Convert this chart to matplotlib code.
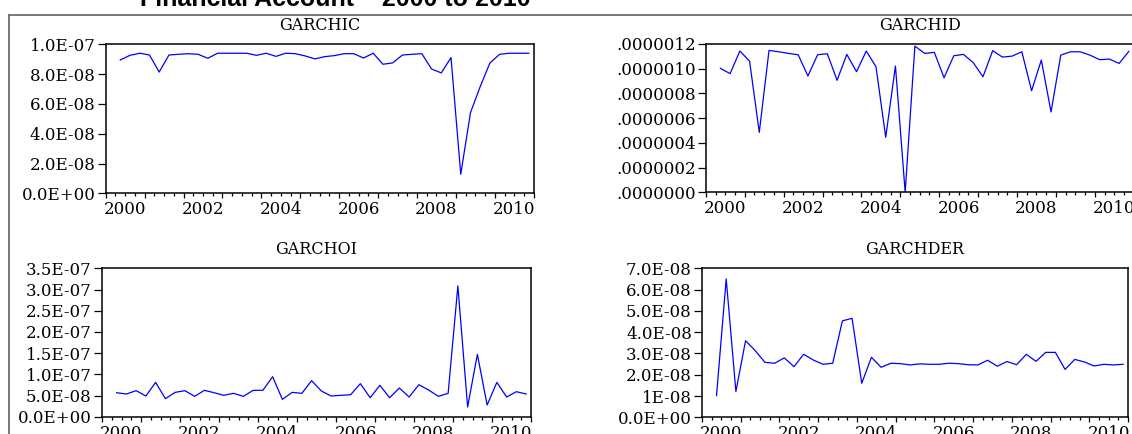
"""Quarterly GARCH variance series, financial account 2000 to 2010"""

import pandas as pd
import matplotlib.pyplot as plt
from matplotlib.lines import Line2D

# quarters 2000Q2 .. 2010Q4 (first obs lost to the lag)
quarters = pd.period_range('2000Q2', '2010Q4', freq='Q')

garchic = [8.95, 9.26, 9.40, 9.28, 8.14, 9.28, 9.33, 9.37, 9.33, 9.06,
           9.40, 9.40, 9.40, 9.40, 9.26, 9.40, 9.19, 9.40, 9.37, 9.22,
           9.02, 9.17, 9.24, 9.37, 9.37, 9.08, 9.40, 8.66, 8.75, 9.28,
           9.33, 9.37, 8.34, 8.08, 9.11, 1.28, 5.41, 7.16, 8.75, 9.33,
           9.40, 9.40, 9.40]  # x 1e-8

garchid = [10.03, 9.60, 11.43, 10.62, 4.85, 11.48, 11.37, 11.24, 11.13, 9.41,
           11.13, 11.21, 9.06, 11.16, 9.76, 11.43, 10.16, 4.45, 10.22, 0.0,
           11.83, 11.24, 11.32, 9.27, 11.05, 11.16, 10.49, 9.35, 11.46, 10.94,
           11.02, 11.37, 8.22, 10.70, 6.50, 11.10, 11.37, 11.37, 11.10, 10.73,
           10.78, 10.43, 11.40]  # x 1e-7

garchoi = [5.66, 5.35, 6.14, 4.88, 8.10, 4.25, 5.74, 6.14, 4.80, 6.22,
           5.66, 5.04, 5.51, 4.80, 6.22, 6.22, 9.44, 4.09, 5.74, 5.51,
           8.50, 6.06, 4.88, 5.04, 5.19, 7.79, 4.48, 7.40, 4.48, 6.77,
           4.64, 7.55, 6.29, 4.80, 5.51, 30.84, 2.28, 14.71, 2.75, 8.10,
           4.64, 5.90, 5.35]  # x 1e-8

garchder = [1.02, 6.50, 1.21, 3.60, 3.13, 2.58, 2.54, 2.79, 2.38, 2.96,
            2.69, 2.49, 2.54, 4.53, 4.65, 1.60, 2.82, 2.35, 2.54, 2.52,
            2.46, 2.51, 2.49, 2.49, 2.54, 2.52, 2.47, 2.46, 2.68, 2.40,
            2.62, 2.47, 2.96, 2.63, 3.05, 3.05, 2.25, 2.72, 2.60, 2.41,
            2.49, 2.46, 2.49]  # x 1e-8

# y tick labels as printed by EViews
ic_ticks = ['0.0E+00', '2.0E-08', '4.0E-08', '6.0E-08', '8.0E-08', '1.0E-07']
id_ticks = ['.0000000', '.0000002', '.0000004', '.0000006', '.0000008',
            '.0000010', '.0000012']
oi_ticks = ['0.0E+00', '5.0E-08', '1.0E-07', '1.5E-07', '2.0E-07', '2.5E-07',
            '3.0E-07', '3.5E-07']
der_ticks = ['0.0E+00', '1E-08', '2.0E-08', '3.0E-08', '4.0E-08', '5.0E-08',
             '6.0E-08', '7.0E-08']

year_labels = ['2000', '2002', '2004', '2006', '2008', '2010']

W, H = 1132, 434
SERIF = 'DejaVu Serif'


def axes_box(left, top, right, bottom):
    """pixel box -> figure fraction rect"""
    return [left / W, 1 - bottom / H, (right - left) / W, (bottom - top) / H]


def eviews_panel(ax, title, values, scale, tick_labels):
    """Draw one EViews style line graph"""
    xs = [q.year + (q.quarter - 1) / 4 + 0.125 for q in quarters]
    ys = [v * scale for v in values]
    ax.plot(xs, ys, color='#0000ff', lw=0.9)

    ax.set_xlim(2000, 2011)
    ax.set_ylim(0, float(tick_labels[-1]) if tick_labels[-1][0] != '.' else 1.2e-6)

    # year ticks, quarter ticks, labels centred on the year
    ax.set_xticks(range(2000, 2012), labels=[''] * 12)
    minor_pos, minor_lab = [], []
    for yr in range(2000, 2011):
        for frac in (0.25, 0.5, 0.75):
            minor_pos.append(yr + frac)
            lab = str(yr) if (frac == 0.5 and str(yr) in year_labels) else ''
            minor_lab.append(lab)
    ax.set_xticks(minor_pos, labels=minor_lab, minor=True)

    n = len(tick_labels)
    top = ax.get_ylim()[1]
    ax.set_yticks([top * i / (n - 1) for i in range(n)], labels=tick_labels)

    ax.tick_params(axis='x', which='major', length=3.8, width=0.9, direction='out')
    ax.tick_params(axis='x', which='minor', length=2.2, width=0.9, direction='out',
                   pad=3.5)
    ax.tick_params(axis='y', length=5.5, width=0.9, direction='out', pad=1.8)
    for lab in ax.get_xticklabels(which='both') + ax.get_yticklabels():
        lab.set_fontfamily(SERIF)
        lab.set_fontsize(12)
    for sp in ax.spines.values():
        sp.set_linewidth(1.1)
        sp.set_color('black')
    ax.set_title(title, fontfamily=SERIF, fontsize=11.5, pad=10)


fig = plt.figure(figsize=(W / 100, H / 100), dpi=100)

ax_ic = fig.add_axes(axes_box(105.7, 44.3, 533.7, 193.3))
ax_id = fig.add_axes(axes_box(705.8, 44.0, 1133.7, 192.3))
ax_oi = fig.add_axes(axes_box(102.0, 268.3, 531.0, 416.7))
ax_der = fig.add_axes(axes_box(702.0, 268.3, 1128.0, 417.3))

eviews_panel(ax_ic, 'GARCHIC', garchic, 1e-8, ic_ticks)
eviews_panel(ax_id, 'GARCHID', garchid, 1e-7, id_ticks)
eviews_panel(ax_oi, 'GARCHOI', garchoi, 1e-8, oi_ticks)
eviews_panel(ax_der, 'GARCHDER', garchder, 1e-8, der_ticks)

# page frame and the clipped heading above it
fig.add_artist(Line2D([8.5 / W, 1.0], [1 - 14.5 / H, 1 - 14.5 / H],
                      transform=fig.transFigure, color='#6e6e6e', lw=1.3))
fig.add_artist(Line2D([8.5 / W, 8.5 / W], [1 - 14.5 / H, 0.0],
                      transform=fig.transFigure, color='#6e6e6e', lw=1.3))
fig.text(140 / W, 1 - 5.5 / H, 'Financial Account \u2013 2000 to 2010',
         fontfamily='Liberation Sans', fontweight='bold', fontsize=18,
         va='baseline', ha='left')

fig.savefig('out.png', dpi=100)
